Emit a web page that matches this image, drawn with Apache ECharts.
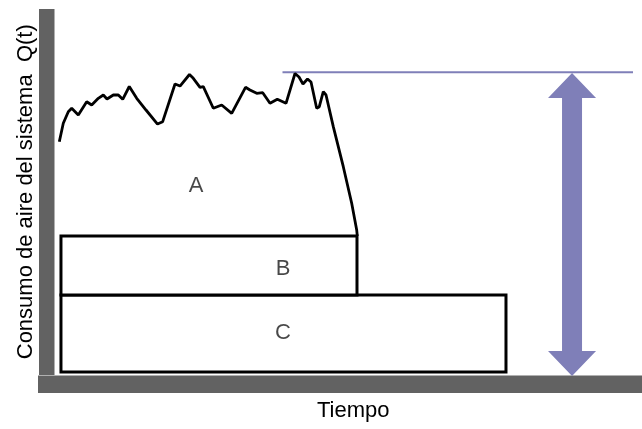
<!DOCTYPE html>
<html>
<head>
<meta charset="utf-8">
<script src="https://cdn.jsdelivr.net/npm/echarts@6/dist/echarts.min.js"></script>
<style>
  html, body { margin: 0; padding: 0; background: #fff; }
  #main { width: 642px; height: 429px; }
</style>
</head>
<body>
<div id="main"></div>
<script>
// consumo de aire medido (tiempo, Q)
var traceTime = [2.15, 2.82, 3.66, 4.23, 5.34, 6.75, 7.59, 8.70, 9.54, 10.16, 11.22, 12.06, 12.80, 13.90, 15.15, 16.71, 18.64, 19.51, 21.58, 22.42, 24.01, 24.65, 25.78, 26.33, 28.01, 29.42, 31.10, 33.42, 34.17, 35.30, 36.31, 37.53, 38.76, 40.22, 41.73, 42.40, 43.07, 43.83, 44.42, 45.37, 45.81, 46.48, 46.94, 48.16, 49.84, 51.25, 52.09, 52.19]
var traceQ = [64.66, 69.56, 72.65, 73.56, 71.77, 75.31, 74.43, 76.22, 77.10, 76.03, 77.10, 77.10, 75.95, 79.36, 76.22, 73.10, 69.37, 69.99, 80.03, 79.49, 82.56, 81.54, 79.15, 79.31, 73.56, 74.43, 72.22, 79.15, 78.43, 77.55, 77.71, 74.89, 75.95, 74.89, 82.82, 81.89, 80.03, 81.36, 80.56, 73.56, 73.98, 77.98, 77.10, 68.66, 58.00, 48.26, 41.15, 39.55]

// bloques B y C: [t inicio, Q inferior, t fin, Q superior]
var blockC = [2.43, 3.33, 77.16, 23.84]
var blockB = [2.43, 23.84, 52.14, 39.55]

// etiquetas de zonas
var zoneNames = ['A', 'B', 'C']
var zoneTime = [25.10, 39.71, 39.71]
var zoneQ = [52.85, 30.76, 13.72]

// nivel maximo y flecha de capacidad
var peakQ = 83.16
var peakLineTime = [39.63, 98.49]
var arrowTime = 88.25
var arrowQ = [2.26, 82.96]

var trace = []
for (var i = 0; i < traceTime.length; i++) {
  trace.push([traceTime[i], traceQ[i]])
}
var zones = []
for (var j = 0; j < zoneNames.length; j++) {
  zones.push({ name: zoneNames[j], value: [zoneTime[j], zoneQ[j]] })
}

var chart = echarts.init(document.getElementById('main'))
chart.setOption({
  animation: false,
  grid: {
    left: 46.5,
    right: 0,
    top: 9,
    bottom: 44.5
  },
  xAxis: {
    type: 'value',
    min: 0,
    max: 100,
    name: 'Tiempo',
    nameLocation: 'middle',
    nameGap: 15,
    nameTextStyle: {
      fontFamily: 'Liberation Sans',
      fontSize: 22,
      color: '#000',
      padding: [0, 0, 0, 18]
    },
    axisLine: {
      lineStyle: {
        color: '#626262',
        width: 17,
        cap: 'square',
        shadowColor: '#b0b0b0',
        shadowOffsetY: -1
      }
    },
    axisTick: { show: false },
    axisLabel: { show: false },
    splitLine: { show: false }
  },
  yAxis: {
    type: 'value',
    min: 0,
    max: 100,
    name: 'Consumo de aire del sistema  Q(t)',
    nameLocation: 'middle',
    nameGap: 10,
    nameTextStyle: {
      fontFamily: 'Liberation Sans',
      fontSize: 22,
      color: '#000',
      padding: [0, 0, 0, 10]
    },
    axisLine: {
      show: true,
      lineStyle: {
        color: '#626262',
        width: 15,
        cap: 'butt',
        shadowColor: '#b0b0b0',
        shadowOffsetX: 1
      }
    },
    axisTick: { show: false },
    axisLabel: { show: false },
    splitLine: { show: false }
  },
  series: [
    {
      type: 'custom',
      data: [blockC, blockB],
      encode: { x: [0, 2], y: [1, 3] },
      renderItem: function (params, api) {
        var p0 = api.coord([api.value(0), api.value(3)])
        var p1 = api.coord([api.value(2), api.value(1)])
        return {
          type: 'rect',
          shape: { x: p0[0], y: p0[1], width: p1[0] - p0[0], height: p1[1] - p0[1] },
          style: { fill: '#fff', stroke: '#000', lineWidth: 3 }
        }
      },
      z: 2
    },
    {
      type: 'line',
      data: trace,
      showSymbol: false,
      lineStyle: { color: '#000', width: 2.8 },
      z: 3
    },
    {
      type: 'line',
      data: [[peakLineTime[0], peakQ], [peakLineTime[1], peakQ]],
      showSymbol: false,
      lineStyle: { color: '#7f7fb8', width: 2.2 },
      z: 2
    },
    {
      type: 'custom',
      data: [[arrowTime, arrowQ[0], arrowQ[1]]],
      encode: { x: 0, y: [1, 2] },
      renderItem: function (params, api) {
        var b = api.coord([api.value(0), api.value(1)])
        var t = api.coord([api.value(0), api.value(2)])
        var cx = t[0]
        var hw = 24
        var hh = 25
        var sw = 10
        return {
          type: 'polygon',
          shape: {
            points: [
              [cx, t[1]], [cx + hw, t[1] + hh], [cx + sw, t[1] + hh],
              [cx + sw, b[1] - hh], [cx + hw, b[1] - hh], [cx, b[1]],
              [cx - hw, b[1] - hh], [cx - sw, b[1] - hh], [cx - sw, t[1] + hh],
              [cx - hw, t[1] + hh]
            ]
          },
          style: { fill: '#7f7fb8' }
        }
      },
      z: 3
    },
    {
      type: 'scatter',
      data: zones,
      symbolSize: 0,
      label: {
        show: true,
        position: 'inside',
        formatter: '{b}',
        fontFamily: 'Liberation Sans',
        fontSize: 22,
        color: '#1a1a1a'
      },
      z: 4
    }
  ]
})
</script>
</body>
</html>
